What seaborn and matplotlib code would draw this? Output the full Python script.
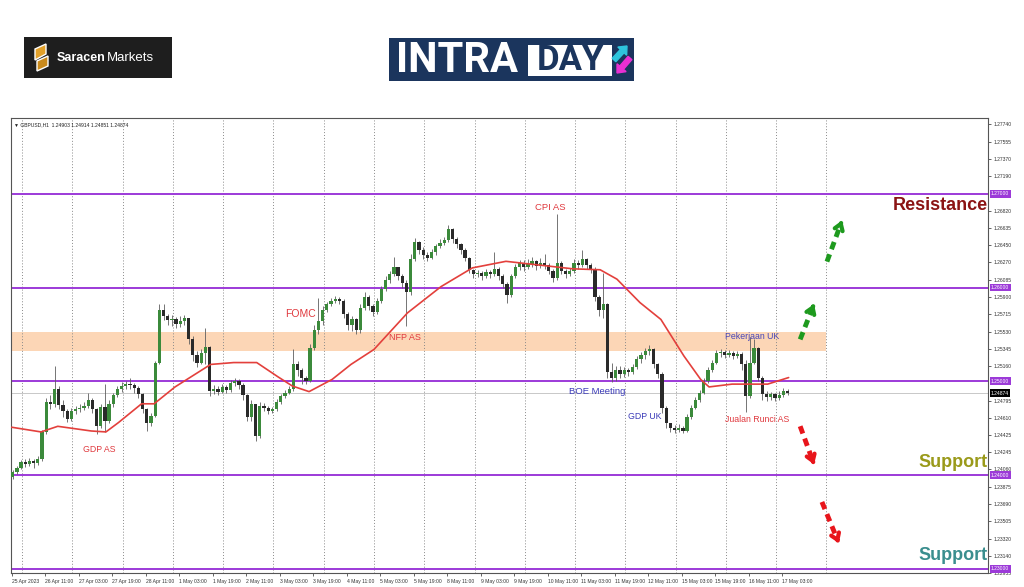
import numpy as np
import matplotlib
matplotlib.use("Agg")
import matplotlib.pyplot as plt
import seaborn as sns
from matplotlib.patches import Rectangle, Polygon, FancyArrow
from matplotlib.transforms import blended_transform_factory

# ---- data (GBPUSD H1, drawn as 2-hour candles) ----
base_price = 1.2400          # prices below are pips above this
open0 = -2.0
closes = [3, 8, 14, 12, 15, 13, 17, 46, 78, 76,
          92, 75, 68, 60, 68, 70, 72, 74, 80, 70,
          52, 73, 58, 76, 85, 92, 95, 97, 96, 93,
          86, 70, 55, 63, 120, 176, 170, 165, 167, 161,
          164, 168, 145, 128, 120, 130, 137, 90, 92, 89,
          94, 91, 98, 100, 96, 85, 62, 76, 42, 74,
          72, 68, 70, 78, 84, 88, 92, 118, 112, 104,
          100, 135, 155, 164, 176, 182, 186, 188, 186, 172,
          160, 166, 155, 178, 190, 180, 174, 186, 198, 208,
          215, 222, 212, 205, 195, 230, 249, 240, 235, 232,
          238, 244, 248, 251, 262, 252, 246, 240, 232, 219,
          214, 216, 212, 217, 214, 220, 212, 204, 192, 212,
          222, 226, 222, 225, 228, 223, 226, 224, 218, 210,
          226, 218, 214, 218, 226, 224, 230, 224, 220, 190,
          176, 182, 110, 104, 112, 108, 112, 110, 115, 124,
          128, 132, 134, 118, 108, 72, 55, 50, 48, 50,
          47, 62, 72, 80, 88, 100, 112, 120, 130, 131,
          128, 130, 127, 129, 118, 84, 120, 135, 104, 86,
          83, 86, 82, 85, 90, 87.4]
highs = [5, 10, 16, 17, 18, 17, 20, 48, 82, 85,
         116, 95, 80, 70, 72, 74, 76, 78, 87, 82,
         72, 76, 97, 80, 88, 95, 99, 100, 104, 98,
         95, 88, 72, 66, 122, 182, 182, 172, 171, 169,
         170, 171, 168, 148, 132, 134, 157, 138, 96, 95,
         97, 96, 101, 103, 102, 98, 86, 80, 76, 78,
         77, 74, 73, 81, 86, 91, 95, 134, 122, 114,
         106, 140, 160, 189, 180, 185, 189, 191, 190, 188,
         174, 170, 168, 182, 195, 192, 182, 189, 202, 212,
         218, 233, 222, 214, 208, 236, 253, 250, 243, 238,
         241, 247, 252, 254, 267, 264, 254, 248, 242, 233,
         220, 219, 218, 220, 219, 238, 222, 214, 206, 215,
         225, 229, 229, 230, 233, 229, 232, 236, 226, 220,
         278, 228, 220, 221, 230, 229, 240, 232, 226, 222,
         192, 216, 184, 120, 116, 116, 115, 114, 118, 127,
         131, 136, 139, 136, 120, 110, 74, 56, 53, 54,
         52, 65, 75, 83, 91, 103, 115, 123, 133, 134,
         133, 133, 132, 132, 131, 123, 147, 145, 137, 106,
         90, 89, 88, 90, 93, 91.4]
lows = [-4, 1, 6, 9, 10, 8, 11, 15, 44, 70,
        73, 70, 62, 57, 58, 65, 67, 69, 72, 66,
        44, 50, 46, 55, 73, 83, 89, 92, 92, 88,
        82, 66, 47, 52, 62, 118, 165, 160, 159, 157,
        158, 160, 140, 122, 115, 118, 118, 84, 86, 85,
        87, 88, 89, 95, 92, 80, 58, 58, 36, 40,
        68, 65, 66, 68, 76, 82, 86, 90, 106, 97,
        97, 99, 133, 150, 160, 174, 180, 184, 182, 168,
        155, 154, 150, 152, 176, 176, 170, 172, 184, 196,
        205, 212, 208, 200, 159, 192, 228, 236, 230, 228,
        230, 235, 242, 245, 249, 248, 242, 236, 228, 216,
        210, 211, 208, 210, 210, 212, 208, 200, 184, 190,
        210, 219, 218, 220, 222, 219, 221, 220, 214, 206,
        208, 214, 210, 212, 216, 220, 222, 220, 216, 186,
        170, 168, 104, 99, 100, 104, 105, 106, 108, 113,
        120, 124, 128, 114, 104, 66, 50, 46, 45, 46,
        45, 46, 60, 70, 78, 86, 98, 110, 118, 126,
        125, 126, 124, 125, 112, 67, 82, 118, 100, 80,
        79, 80, 79, 80, 83, 85.1]

# moving average (red line), read at hourly bar numbers
ma_bars = [0, 14, 22, 38, 45, 51, 62, 68, 78, 95, 106, 117, 127, 134, 142, 153, 162,
           173, 189, 205, 220, 236, 252, 268, 281, 289, 300, 310, 321, 329, 333, 344, 361, 371]
ma_vals = [1.2451, 1.2446, 1.2452, 1.2447, 1.2446, 1.2456, 1.2476, 1.2476, 1.2494, 1.2518,
           1.2520, 1.2520, 1.2505, 1.2495, 1.2489, 1.2502, 1.2518, 1.2534, 1.2573, 1.2601,
           1.2621, 1.2628, 1.2624, 1.2620, 1.2619, 1.2609, 1.2584, 1.2566, 1.2527, 1.2502,
           1.2494, 1.2497, 1.2497, 1.2504]

levels = [1.27, 1.26, 1.25, 1.24, 1.23]
last_price = 1.24874
zone = (1.2532, 1.2553)

x_labels = ["25 Apr 2023", "26 Apr 11:00", "27 Apr 03:00", "27 Apr 19:00", "28 Apr 11:00",
            "1 May 03:00", "1 May 19:00", "2 May 11:00", "3 May 03:00", "3 May 19:00",
            "4 May 11:00", "5 May 03:00", "5 May 19:00", "8 May 11:00", "9 May 03:00",
            "9 May 19:00", "10 May 11:00", "11 May 03:00", "11 May 19:00", "12 May 11:00",
            "15 May 03:00", "15 May 19:00", "16 May 11:00", "17 May 03:00"]
y_ticks = [1.22955, 1.23140, 1.23320, 1.23505, 1.23690, 1.23875, 1.24060, 1.24245,
           1.24425, 1.24610, 1.24795, 1.25160, 1.25345, 1.25530, 1.25715, 1.25900,
           1.26085, 1.26270, 1.26450, 1.26635, 1.26820, 1.27190, 1.27370, 1.27555, 1.27740]

events = ["GDP AS", "FOMC", "NFP AS", "CPI AS", "BOE Meeting", "GDP UK",
          "Pekerjaan UK", "Jualan Runci AS"]

# ---- figure ----
sns.set_style("white")
plt.rcParams['font.family'] = ['Liberation Sans', 'DejaVu Sans']

fig = plt.figure(figsize=(10.24, 5.87), dpi=100)
ax = fig.add_axes([11/1024, 14/587, 977/1024, 455/587])

c = base_price + np.array(closes) / 1e4
h = base_price + np.array(highs) / 1e4
l = base_price + np.array(lows) / 1e4
o = np.r_[base_price + open0 / 1e4, c[:-1]]
h = np.maximum(h, np.maximum(o, c))
l = np.minimum(l, np.minimum(o, c))
x = 2 * np.arange(len(c)) + 0.5
up = c >= o

# background elements
ax.add_patch(Rectangle((-1, zone[0]), 390, zone[1] - zone[0], facecolor='#fcd6b6',
                       edgecolor='none', zorder=0.5))
for d in range(5, 390, 24):
    ax.axvline(d, color='#8a8a8a', lw=0.7, ls=(0, (1, 2)), zorder=1)
for lv in levels:
    ax.axhline(lv, color='#9c3ad8', lw=1.4, zorder=2)
ax.axhline(last_price, color='#c8c8c8', lw=0.7, zorder=1.5)

# candles
ax.vlines(x, l, h, color='#5e5e5e', lw=0.6, zorder=3)
ax.bar(x[up], (c - o)[up], bottom=o[up], width=1.55, color='#3b8a3b', lw=0, zorder=4)
ax.bar(x[~up], (o - c)[~up], bottom=c[~up], width=1.55, color='#2a2a2a', lw=0, zorder=4)

sns.lineplot(x=ma_bars, y=ma_vals, ax=ax, color='#e3403c', linewidth=1.2, zorder=5)

# event notes
red, blue = '#e0393e', '#3a3ab8'
notes = [(41.7, 1.24277, red, 6.3), (137.7, 1.25713, red, 7.5), (187.8, 1.25468, red, 6.5),
         (257, 1.26851, red, 6.8), (279.5, 1.24894, blue, 6.8), (302.4, 1.24628, blue, 6.3),
         (353.5, 1.25479, '#4545b8', 6.3), (356, 1.24596, red, 6.3)]
for txt, (nx, ny, col, fs) in zip(events, notes):
    ax.text(nx, ny, txt, color=col, fontsize=fs, ha='center', va='center', zorder=6)

# big labels
ax.text(466, 1.26876, "Resistance", color='#8b1414', fontsize=13, fontweight='bold',
        ha='right', va='center', zorder=6)
ax.text(466, 1.24132, "Support", color='#9a9a1a', fontsize=13, fontweight='bold',
        ha='right', va='center', zorder=6)
ax.text(466, 1.23142, "Support", color='#3a8e8e', fontsize=13, fontweight='bold',
        ha='right', va='center', zorder=6)

# dashed arrows
arrows = [((376.5, 1.25447), (383.6, 1.25851), '#1e9a1e'),
          ((389.3, 1.26277), (397.0, 1.26745), '#1e9a1e'),
          ((376.5, 1.24521), (383.6, 1.24085), '#e8151b'),
          ((386.9, 1.23713), (395.5, 1.23245), '#e8151b')]
for (x0, y0), (x1, y1), col in arrows:
    xm, ym = x0 + 0.8 * (x1 - x0), y0 + 0.8 * (y1 - y0)
    ax.plot([x0, xm], [y0, ym], color=col, lw=3.5, ls=(0, (1.6, 1.1)),
            solid_capstyle='butt', zorder=6)
    ax.annotate('', xy=(x1, y1), xytext=(xm, ym),
                arrowprops=dict(arrowstyle='->,head_length=0.45,head_width=0.3',
                                color=col, lw=3), zorder=6)

# axes styling
ax.set_xlim(-0.33, 466.2)
ax.set_ylim(1.22968, 1.27809)
ax.set_xlabel('')
ax.set_ylabel('')
for s in ax.spines.values():
    s.set_color('#555555')
    s.set_linewidth(0.8)
ax.set_xticks(range(0, 369, 16))
ax.set_xticklabels(x_labels, ha='left', fontsize=3.6, color='#333333')
ax.tick_params(axis='x', length=2, width=0.5, pad=2, bottom=True)
ax.yaxis.tick_right()
ax.set_yticks(y_ticks)
ax.set_yticklabels([f"{v:.5f}" for v in y_ticks], fontsize=3.6, color='#333333')
ax.tick_params(axis='y', length=2, width=0.5, pad=2, right=True)

tr = blended_transform_factory(ax.transAxes, ax.transData)
for lv in levels:
    ax.text(1.003, lv, f"{lv:.5f}", transform=tr, fontsize=3.6, color='white',
            va='center', ha='left', zorder=7,
            bbox=dict(facecolor='#9c3ad8', edgecolor='none', pad=1.0))
ax.text(1.003, last_price, f"{last_price:.5f}", transform=tr, fontsize=3.6, color='white',
        va='center', ha='left', zorder=7, bbox=dict(facecolor='black', edgecolor='none', pad=1.0))
ax.text(0.003, 0.99, "\u25bc GBPUSD,H1  1.24903 1.24914 1.24851 1.24874", transform=ax.transAxes,
        fontsize=3.6, color='#222222', va='top', ha='left')

# ---- logos in pixel coordinates ----
ov = fig.add_axes([0, 0, 1, 1])
ov.set_xlim(0, 1024)
ov.set_ylim(587, 0)
ov.axis('off')

ov.add_patch(Rectangle((24, 37), 148, 41, facecolor='#1e1e1e', edgecolor='none'))
ov.add_patch(Polygon([(35, 49), (46, 44), (46, 54), (35, 60)], facecolor='#e2a12b'))
ov.add_patch(Polygon([(37, 61), (48, 56), (48, 66), (37, 71)], facecolor='#c98a1c'))
ov.text(57, 58, "Saracen", color='white', fontsize=9, fontweight='bold', va='center', ha='left')
ov.text(107, 58, "Markets", color='white', fontsize=9.5, va='center', ha='left')

ov.add_patch(Rectangle((389, 38), 245, 43, facecolor='#1b355d', edgecolor='none'))
ov.add_patch(Rectangle((528, 45), 84, 31, facecolor='white', edgecolor='none'))
ov.text(396, 61, "INTRA", color='white', fontsize=30, fontweight='bold', va='center',
        ha='left', family=['Roboto', 'DejaVu Sans'])
ov.text(570, 61, "DAY", color='#1b355d', fontsize=25, fontweight='bold', va='center',
        ha='center', family=['Roboto', 'DejaVu Sans'])
ov.add_patch(FancyArrow(614, 60, 13, -14, width=5, head_width=12, head_length=7,
                        length_includes_head=True, color='#2ec4dc'))
ov.add_patch(FancyArrow(630, 58, -13, 15, width=5, head_width=12, head_length=7,
                        length_includes_head=True, color='#ea2fd3'))

fig.savefig("out.png", dpi=100, facecolor='white')
